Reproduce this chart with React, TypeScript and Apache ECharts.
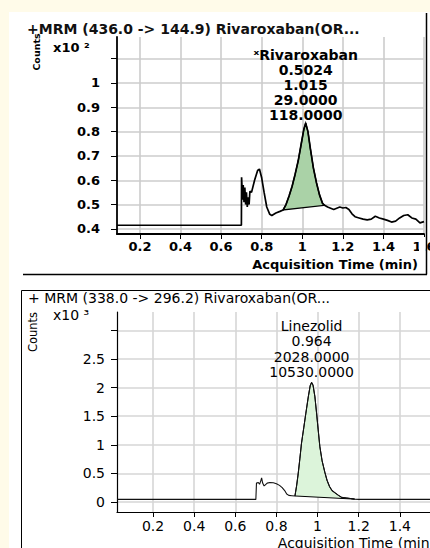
import React, { useEffect, useRef } from "react";
import * as echarts from "echarts";

const FONT = "'DejaVu Sans', sans-serif";

// ---------------- top panel: Rivaroxaban (436.0 -> 144.9) ----------------
const topTitle = "+MRM (436.0 -> 144.9) Rivaroxaban(OR...";
const topScale = "x10 \u00B2";
const topPre: number[][] = [
  [0.087, 0.415], [0.700, 0.415], [0.701, 0.612], [0.706, 0.52], [0.709, 0.58],
  [0.713, 0.51], [0.717, 0.57], [0.721, 0.50], [0.725, 0.55], [0.729, 0.49],
  [0.733, 0.53], [0.738, 0.50], [0.742, 0.555], [0.750, 0.55], [0.765, 0.60],
  [0.780, 0.64], [0.789, 0.646], [0.800, 0.61], [0.812, 0.55], [0.825, 0.49],
  [0.840, 0.46], [0.850, 0.455], [0.870, 0.465], [0.890, 0.472],
];
const topPeak: number[][] = [
  [0.906, 0.478], [0.920, 0.50], [0.935, 0.535], [0.950, 0.575], [0.965, 0.625],
  [0.980, 0.68], [0.995, 0.75], [1.008, 0.81], [1.017, 0.835], [1.028, 0.80],
  [1.040, 0.73], [1.055, 0.65], [1.070, 0.59], [1.085, 0.54], [1.100, 0.505],
  [1.110, 0.497],
];
const topPost: number[][] = [
  [1.125, 0.49], [1.140, 0.485], [1.155, 0.48], [1.170, 0.485], [1.185, 0.49],
  [1.200, 0.486], [1.215, 0.488], [1.230, 0.48], [1.245, 0.462], [1.260, 0.45],
  [1.280, 0.445], [1.300, 0.44], [1.320, 0.437], [1.340, 0.44], [1.360, 0.452],
  [1.380, 0.445], [1.400, 0.44], [1.420, 0.435], [1.440, 0.428], [1.460, 0.432],
  [1.480, 0.445], [1.500, 0.455], [1.520, 0.458], [1.540, 0.445], [1.560, 0.44],
  [1.580, 0.425], [1.600, 0.43],
];
const topYTicks = [0.4, 0.5, 0.6, 0.7, 0.8, 0.9, 1.0, 1.1];
const topYLabels = [0.4, 0.5, 0.6, 0.7, 0.8, 0.9, 1.0];
const topPeakText = ["\u02E3Rivaroxaban", "0.5024", "1.015", "29.0000", "118.0000"];

// ---------------- bottom panel: Linezolid (338.0 -> 296.2) ----------------
const botTitle = "+ MRM (338.0 -> 296.2) Rivaroxaban(OR...";
const botScale = "x10 \u00B3";
const botPre: number[][] = [
  [0.025, 0.045], [0.700, 0.045], [0.703, 0.33], [0.712, 0.34], [0.718, 0.31],
  [0.724, 0.37], [0.728, 0.42], [0.733, 0.33], [0.740, 0.28], [0.746, 0.30],
  [0.755, 0.33], [0.768, 0.34], [0.785, 0.335], [0.800, 0.32], [0.815, 0.29],
  [0.828, 0.25], [0.840, 0.20], [0.850, 0.14], [0.860, 0.115], [0.875, 0.11],
];
const botPeak: number[][] = [
  [0.890, 0.105], [0.898, 0.28], [0.906, 0.50], [0.914, 0.76], [0.922, 1.03],
  [0.933, 1.30], [0.943, 1.55], [0.955, 1.84], [0.964, 2.03], [0.971, 2.09],
  [0.978, 2.04], [0.987, 1.84], [0.995, 1.56], [1.003, 1.26], [1.011, 0.97],
  [1.022, 0.72], [1.036, 0.51], [1.046, 0.38], [1.058, 0.27], [1.070, 0.20],
  [1.085, 0.16], [1.100, 0.12], [1.117, 0.08], [1.140, 0.07], [1.160, 0.06],
  [1.180, 0.05],
];
const botPost: number[][] = [[1.200, 0.045], [1.600, 0.045]];
const botYTicks = [0, 0.5, 1, 1.5, 2, 2.5, 3];
const botYLabels = [0, 0.5, 1, 1.5, 2, 2.5];
const botPeakText = ["Linezolid", "0.964", "2028.0000", "10530.0000"];

const xTicks = [0.2, 0.4, 0.6, 0.8, 1.0, 1.2, 1.4, 1.6];
const xName = "Acquisition Time (min)";

const apexOf = (pk: number[][]) => pk.reduce((a, b) => (b[1] > a[1] ? b : a));

function xAxis(gi: number, min: number, fs: number, fw: string, margin: number, lw: number, grid: string) {
  return {
    type: "value", gridIndex: gi, min, max: 1.6, splitNumber: 8,
    axisLine: { show: true, onZero: false, lineStyle: { color: "#000", width: lw } },
    axisTick: { show: true, customValues: xTicks, length: 5, lineStyle: { color: "#000", width: 1 } },
    axisLabel: { customValues: xTicks, fontSize: fs, fontWeight: fw, fontFamily: FONT, color: "#000", margin },
    splitLine: { show: true, lineStyle: { color: grid, width: 1.6, opacity: 1 } },
    name: xName, nameLocation: "end", nameGap: -6,
    nameTextStyle: { align: "right", verticalAlign: "top", padding: [24, 0, 0, 0], fontSize: fs, fontWeight: fw, fontFamily: FONT, color: "#000" },
  };
}

function yAxis(gi: number, min: number, max: number, ticks: number[], labels: number[], fs: number, fw: string, margin: number, lw: number, grid: string) {
  return {
    type: "value", gridIndex: gi, min, max, splitNumber: 8,
    axisLine: { show: true, onZero: false, lineStyle: { color: "#000", width: lw } },
    axisTick: { show: true, customValues: ticks, length: 6, lineStyle: { color: "#000", width: 1 } },
    axisLabel: { customValues: labels, fontSize: fs, fontWeight: fw, fontFamily: FONT, color: "#000", margin },
    splitLine: { show: true, lineStyle: { color: grid, width: 1.6, opacity: 1 } },
  };
}

function traceSeries(gi: number, data: number[][], lw: number, color: string, peak: number[][], text: string[], lh: number, dist: number, fw: string) {
  return {
    type: "line", xAxisIndex: gi, yAxisIndex: gi, data, showSymbol: false, z: 3,
    lineStyle: { color, width: lw }, itemStyle: { color }, clip: true,
    markPoint: {
      silent: true, symbol: "circle", symbolSize: 1,
      itemStyle: { color: "rgba(0,0,0,0)" },
      data: [{ coord: apexOf(peak) }],
      label: {
        show: true, position: "top", distance: dist, formatter: text.join("\n"),
        fontSize: 14, fontWeight: fw, lineHeight: lh, fontFamily: FONT, color: "#000", align: "center",
      },
    },
  };
}

function fillSeries(gi: number, peak: number[][], color: string, lw: number) {
  return {
    type: "custom", xAxisIndex: gi, yAxisIndex: gi, data: peak, z: 2, clip: true,
    encode: { x: 0, y: 1 },
    renderItem: (params: any, api: any) => {
      if (params.dataIndex !== 0) return null;
      const pts = peak.map((p) => api.coord(p));
      return { type: "polygon", shape: { points: pts }, style: { fill: color, stroke: "#000", lineWidth: lw } };
    },
  };
}

const CREAM = "#fffbe9";

const option: any = {
  animation: false,
  backgroundColor: "#ffffff",
  textStyle: { fontFamily: FONT },
  title: [
    { text: topTitle, left: 27, top: 22, padding: 0, textStyle: { fontSize: 14, fontWeight: "bold", fontFamily: FONT, color: "#111" } },
    { text: botTitle, left: 28, top: 291, padding: 0, textStyle: { fontSize: 14, fontWeight: "normal", fontFamily: FONT, color: "#000" } },
  ],
  grid: [
    { left: 117, top: 37, width: 307, height: 197, containLabel: false, outerBoundsMode: "none" },
    { left: 117, top: 312, width: 324, height: 200, containLabel: false, outerBoundsMode: "none" },
  ],
  xAxis: [
    xAxis(0, 0.087, 13, "bold", 6, 1.8, "#cccccc"),
    xAxis(1, 0.025, 14, "normal", 7, 1.2, "#d6d6d6"),
  ],
  yAxis: [
    yAxis(0, 0.379, 1.189, topYTicks, topYLabels, 13, "bold", 17, 1.8, "#cccccc"),
    yAxis(1, -0.175, 3.32, botYTicks, botYLabels, 14, "normal", 12, 1.2, "#d6d6d6"),
  ],
  series: [
    fillSeries(0, topPeak, "#aad2a7", 1.3),
    traceSeries(0, [...topPre, ...topPeak, ...topPost], 1.7, "#000", topPeak, topPeakText, 15, 0, "bold"),
    fillSeries(1, botPeak, "#dcf4da", 1),
    traceSeries(1, [...botPre, ...botPeak, ...botPost], 1.1, "#111", botPeak, botPeakText, 15.5, 2, "normal"),
  ],
  graphic: [
    { type: "rect", silent: true, shape: { x: 0, y: 0, width: 430, height: 12 }, style: { fill: CREAM } },
    { type: "rect", silent: true, shape: { x: 0, y: 0, width: 9, height: 548 }, style: { fill: CREAM } },
    { type: "rect", z: 100, z2: 100, silent: true, shape: { x: 419, y: 237, width: 6.5, height: 20 }, style: { fill: "#ffffff" } },
    { type: "line", z: 100, z2: 100, silent: true, shape: { x1: 426.5, y1: 13, x2: 426.5, y2: 274.5 }, style: { stroke: "#000", lineWidth: 1.5 } },
    { type: "line", z: 100, z2: 100, silent: true, shape: { x1: 23, y1: 274.5, x2: 427, y2: 274.5 }, style: { stroke: "#000", lineWidth: 1.5 } },
    { type: "line", z: 100, z2: 100, silent: true, shape: { x1: 21.5, y1: 290.5, x2: 430, y2: 290.5 }, style: { stroke: "#000", lineWidth: 1 } },
    { type: "line", z: 100, z2: 100, silent: true, shape: { x1: 21.5, y1: 290.5, x2: 21.5, y2: 548 }, style: { stroke: "#000", lineWidth: 1 } },
    { type: "text", z: 100, silent: true, x: 36, y: 52, rotation: Math.PI / 2,
      style: { text: "Counts", fontSize: 9.5, fontWeight: "bold", fontFamily: FONT, fill: "#000", align: "center", verticalAlign: "middle" } },
    { type: "text", z: 100, silent: true, x: 53, y: 47,
      style: { text: topScale, fontSize: 13, fontWeight: "bold", fontFamily: FONT, fill: "#000", align: "left", verticalAlign: "middle" } },
    { type: "text", z: 100, silent: true, x: 33, y: 332, rotation: Math.PI / 2,
      style: { text: "Counts", fontSize: 11.5, fontFamily: FONT, fill: "#000", align: "center", verticalAlign: "middle" } },
    { type: "text", z: 100, silent: true, x: 53, y: 315,
      style: { text: botScale, fontSize: 14, fontFamily: FONT, fill: "#000", align: "left", verticalAlign: "middle" } },
  ],
};

export default function App() {
  const ref = useRef<HTMLDivElement>(null);
  useEffect(() => {
    if (!ref.current) return;
    const chart = echarts.init(ref.current, null, { renderer: "svg" });
    chart.setOption(option);
    return () => chart.dispose();
  }, []);
  return <div ref={ref} style={{ position: "absolute", left: 0, top: 0, width: 430, height: 548 }} />;
}
